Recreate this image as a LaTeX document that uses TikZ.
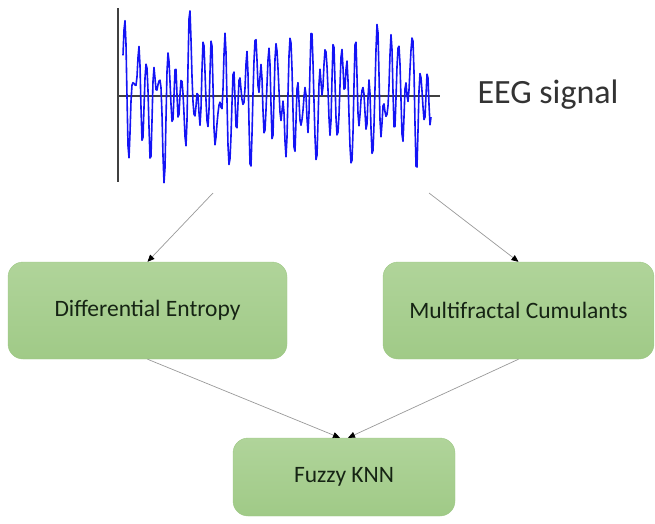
\documentclass[tikz,border=0pt]{standalone}
\usepackage{fontspec}
\setmainfont{Carlito}
\usepackage{tikz}
\usetikzlibrary{positioning}
\usetikzlibrary{arrows.meta}
\definecolor{boxtop}{RGB}{176,212,154}
\definecolor{boxbot}{RGB}{160,202,135}
\definecolor{boxline}{RGB}{158,200,134}
\definecolor{boxtext}{RGB}{22,36,20}
\definecolor{sigcol}{RGB}{20,20,245}
\tikzstyle{box}=[rounded corners=15,draw=boxline,line width=0.4,top color=boxtop,bottom color=boxbot,
                 text=boxtext,font=\fontsize{23.5}{26}\selectfont]
\tikzstyle{arr}=[-{Triangle[length=7,width=6,color=black]},black!40,line width=0.7]
\tikzstyle{axisline}=[black!75,line width=1.8]
\tikzstyle{signal}=[sigcol,line width=1.6,line join=round]

\begin{document}
\begin{tikzpicture}[x=1pt,y=-1pt]
  \useasboundingbox (0,0) rectangle (655,523);
  \def\xa{118} % signal axis x
  \def\ya{96}  % signal axis y

  % EEG SIGNAL
  \draw[axisline] (\xa,8) -- (\xa,182);
  \draw[axisline] (\xa,\ya) -- (440,\ya);
  \draw[signal] plot[domain=0:308,samples=309]
    ({123+\x},{\ya-(33*sin(50*mod(\x,36))+26*sin(32.7*\x+40)+19*sin(21.2*\x+110)+7*sin(80*mod(\x,9)+200)+9*sin(5.3*\x+70))});
  \node[font=\fontsize{34}{36}\selectfont,text=black!80] (eeglabel) at (548,95) {EEG signal};
  \coordinate (eegL) at (213,193);
  \coordinate (eegR) at (429,193);

  % FEATURES & CLASSIFIER
  \node[box,minimum width=279,minimum height=97] (entropy) at (147.5,310.5) {Differential Entropy};
  \node[box,minimum width=271,minimum height=97] (cumulants) at (518.5,310.5) {Multifractal Cumulants};
  \node[box,minimum width=222,minimum height=78] (knn) at (344,477) {Fuzzy KNN};

  % ARROWS
  \draw[arr] (eegL) -- (entropy.north);
  \draw[arr] (eegR) -- (cumulants.north);
  \draw[arr] (entropy.south) -- ([xshift=-4]knn.north);
  \draw[arr] (cumulants.south) -- ([xshift=4]knn.north);

\end{tikzpicture}
\end{document}
